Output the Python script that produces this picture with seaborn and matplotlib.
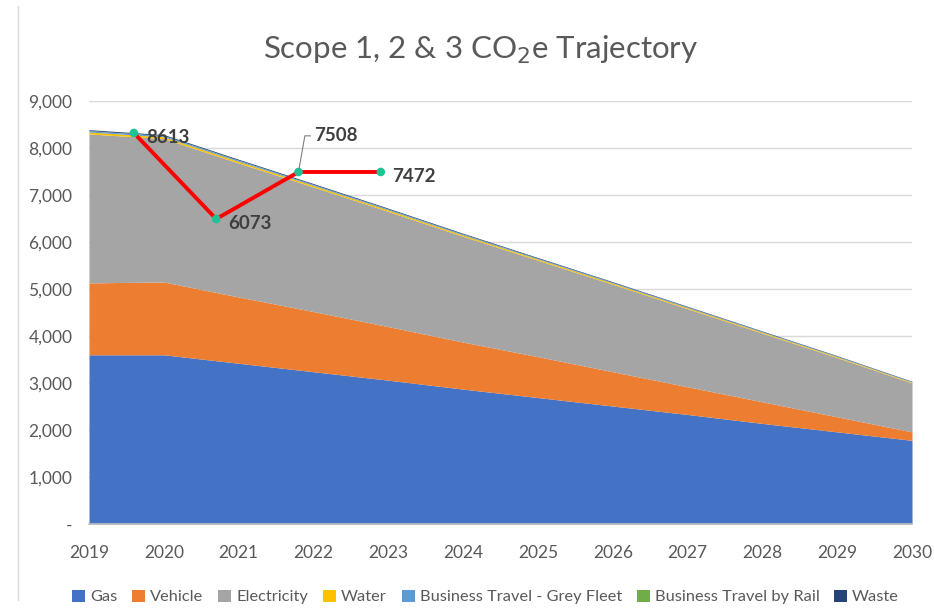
import numpy as np
import pandas as pd
import seaborn as sns
import matplotlib.pyplot as plt
from matplotlib.lines import Line2D
from matplotlib.patches import Patch
import matplotlib.font_manager as fm

# data
years = [2019, 2020, 2021, 2022, 2023, 2024, 2025, 2026, 2027, 2028, 2029, 2030]
gas = [3600, 3600, 3420, 3240, 3060, 2870, 2690, 2510, 2330, 2140, 1960, 1780]
vehicle = [1530, 1550, 1410, 1280, 1140, 1000, 870, 730, 590, 460, 320, 180]
electricity = [3170, 3050, 2850, 2650, 2450, 2250, 2050, 1860, 1660, 1460, 1260, 1040]
water = [40, 38, 35, 32, 30, 28, 26, 24, 22, 20, 18, 16]
grey_fleet = [25, 24, 22, 20, 19, 18, 16, 15, 14, 12, 11, 10]
rail = [5, 5, 5, 4, 4, 4, 3, 3, 3, 3, 2, 2]
waste = [20, 19, 18, 17, 16, 15, 14, 13, 12, 11, 10, 9]

series_names = ["Gas", "Vehicle", "Electricity", "Water",
                "Business Travel - Grey Fleet", "Business Travel by Rail", "Waste"]
colours = ["#4472C4", "#ED7D31", "#A5A5A5", "#FFC000", "#5B9BD5", "#70AD47", "#264478"]

# actual measured totals (red line)
actual_x = [2019.6, 2020.7, 2021.8, 2022.9]
actual_y = [8320, 6490, 7490, 7490]
actual_labels = ["8613", "6073", "7508", "7472"]

sns.set_theme(style="white")
avail = {f.name for f in fm.fontManager.ttflist}
plt.rcParams['font.family'] = ['Lato' if 'Lato' in avail else 'DejaVu Sans', 'DejaVu Sans']
txt = "#595959"

fig = plt.figure(figsize=(9.34, 6.12), dpi=100)
ax = fig.add_axes([89 / 934, 1 - 524 / 612, (912 - 89) / 934, (524 - 101) / 612])

ax.stackplot(years, gas, vehicle, electricity, water, grey_fleet, rail, waste,
             colors=colours, linewidth=0)

df = pd.DataFrame({"x": actual_x, "y": actual_y})
sns.lineplot(data=df, x="x", y="y", color="#FF0000", linewidth=2.8, ax=ax, zorder=5)
sns.scatterplot(data=df, x="x", y="y", color="#1DC394", s=38, edgecolor="none", ax=ax, zorder=6)

lab_kw = dict(fontsize=13.5, fontweight="bold", color="#3F3F3F", va="center", ha="left", zorder=7)
ax.annotate(actual_labels[0], (actual_x[0], actual_y[0]), xytext=(9, -3), textcoords="offset points", **lab_kw)
ax.annotate(actual_labels[1], (actual_x[1], actual_y[1]), xytext=(9, -3), textcoords="offset points", **lab_kw)
ax.annotate(actual_labels[2], (actual_x[2], actual_y[2]), xytext=(11, 26), textcoords="offset points",
            arrowprops=dict(arrowstyle="-", color="#7F7F7F", lw=0.8,
                            connectionstyle="angle,angleA=0,angleB=80,rad=0",
                            shrinkA=0, shrinkB=2), **lab_kw)
ax.annotate(actual_labels[3], (actual_x[3], actual_y[3]), xytext=(8, -3), textcoords="offset points", **lab_kw)

ax.set_xlim(2019, 2030)
ax.set_ylim(0, 9000)
ax.set_xticks(years)
ax.set_xticklabels([str(y) for y in years])
yt = list(range(0, 9001, 1000))
ax.set_yticks(yt)
ax.set_yticklabels(["-"] + [f"{v:,}" for v in yt[1:]])
ax.yaxis.grid(True, color="#D9D9D9", linewidth=1)
ax.set_axisbelow(True)
ax.set_xlabel("")
ax.set_ylabel("")
for s in ["top", "right", "left"]:
    ax.spines[s].set_visible(False)
ax.spines["bottom"].set_color("#BFBFBF")
ax.tick_params(axis="x", colors=txt, labelsize=12.5, length=6, width=1, direction="out", pad=9)
ax.tick_params(axis="x", color="#D0D0D0")
ax.tick_params(axis="y", colors=txt, labelsize=12.5, length=0, pad=12)

fig.text(481 / 934, 1 - 50 / 612, "Scope 1, 2 & 3 CO$_2$e Trajectory", ha="center", va="center",
         fontsize=22.5, color=txt)

handles = [Patch(facecolor=c, edgecolor="none") for c in colours]
fig.legend(handles, series_names, loc="center", bbox_to_anchor=(0.52, 1 - 597 / 612), ncol=7,
           frameon=False, fontsize=11.8, labelcolor=txt, handlelength=0.8, handleheight=0.8,
           handletextpad=0.3, columnspacing=0.9)

fig.add_artist(Line2D([18 / 934, 18 / 934], [0.02, 0.99], color="#D9D9D9", linewidth=1))

fig.savefig("out.png", dpi=100)
